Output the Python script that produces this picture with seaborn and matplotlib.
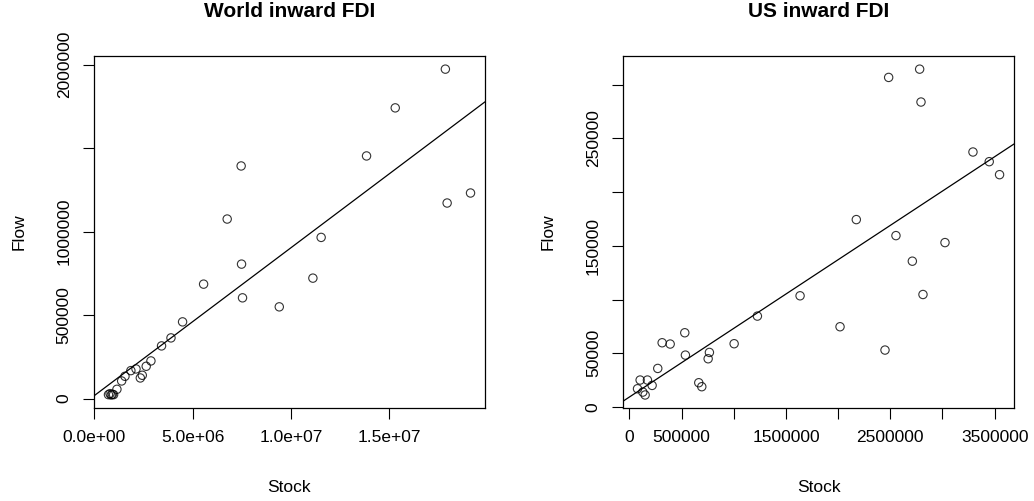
import numpy as np
import pandas as pd
import matplotlib
matplotlib.use("Agg")
import matplotlib.pyplot as plt
import seaborn as sns

# World inward FDI (stock, flow)
world_stock = [0.72e6, 0.80e6, 0.86e6, 0.92e6, 0.98e6, 1.15e6, 1.39e6, 1.56e6, 1.86e6, 2.12e6,
               2.34e6, 2.44e6, 2.64e6, 2.88e6, 3.42e6, 3.90e6, 4.49e6, 5.56e6, 6.76e6, 7.47e6,
               7.49e6, 7.54e6, 9.41e6, 11.12e6, 11.54e6, 13.85e6, 15.31e6, 17.86e6, 17.95e6, 19.14e6]
world_flow = [24000, 30000, 22000, 26000, 24000, 56000, 106000, 134000, 168000, 178000,
              124000, 140000, 194000, 226000, 316000, 364000, 460000, 686000, 1076000, 1394000,
              806000, 604000, 550000, 722000, 966000, 1454000, 1742000, 1974000, 1172000, 1232000]

# US inward FDI (stock, flow)
us_stock = [77000, 102000, 128000, 150000, 172000, 217000, 271000, 313000, 390000, 530000,
            536000, 664000, 693000, 754000, 766000, 1003000, 1226000, 1635000, 2018000, 2174000,
            2449000, 2484000, 2554000, 2711000, 2781000, 2794000, 2813000, 3024000, 3292000, 3448000,
            3547000]
us_flow = [17000, 25100, 13900, 11200, 25100, 20100, 35900, 59800, 58600, 69100,
           48300, 22600, 18900, 44900, 50800, 58900, 84600, 103500, 74700, 174400,
           53000, 306700, 159500, 135700, 314400, 283800, 104700, 153000, 237300, 228300,
           216200]

world_xticks = [0, 5e6, 1e7, 1.5e7]
world_xlabels = ["0.0e+00", "5.0e+06", "1.0e+07", "1.5e+07"]
world_yticks = [0, 500000, 1000000, 1500000, 2000000]
world_ylabels = ["0", "500000", "1000000", "", "2000000"]
us_xticks = [0, 500000, 1000000, 1500000, 2000000, 2500000, 3000000, 3500000]
us_xlabels = ["0", "500000", "", "1500000", "", "2500000", "", "3500000"]
us_yticks = [0, 50000, 100000, 150000, 200000, 250000, 300000]
us_ylabels = ["0", "50000", "", "150000", "", "250000", ""]

sns.set_style("white")
plt.rcParams['font.family'] = ['Liberation Sans', 'DejaVu Sans']
plt.rcParams['text.color'] = 'black'
plt.rcParams['axes.labelcolor'] = 'black'

def r_lims(v):
    # same 4% padding as base R plots
    lo, hi = min(v), max(v)
    r = hi - lo
    return lo - 0.04 * r, hi + 0.04 * r

fig, axes = plt.subplots(1, 2, figsize=(10.34, 5.01), dpi=100)
fig.subplots_adjust(left=0.0909, right=0.9807, bottom=0.1856, top=0.888, wspace=0.353)

panels = [
    ("World inward FDI", world_stock, world_flow, world_xticks, world_xlabels, world_yticks, world_ylabels),
    ("US inward FDI", us_stock, us_flow, us_xticks, us_xlabels, us_yticks, us_ylabels),
]

for ax, (title, xs, ys, xt, xl, yt, yl) in zip(axes, panels):
    df = pd.DataFrame({"Stock": xs, "Flow": ys})
    ax.set_xlim(r_lims(xs))
    ax.set_ylim(r_lims(ys))
    sns.regplot(data=df, x="Stock", y="Flow", ax=ax, ci=None, truncate=False,
                scatter_kws=dict(s=36, facecolors="none", edgecolors="black", linewidths=0.8),
                line_kws=dict(color="black", lw=0.9))
    ax.set_xlim(r_lims(xs))
    ax.set_ylim(r_lims(ys))
    ax.set_xticks(xt)
    ax.set_xticklabels(xl)
    ax.set_yticks(yt)
    ax.set_yticklabels(yl, rotation=90, va="center")
    ax.tick_params(direction="out", length=8, width=0.8, labelsize=12.5, pad=8,
                   bottom=True, left=True, colors="black")
    for s in ax.spines.values():
        s.set_color("black")
        s.set_linewidth(0.9)
    ax.set_xlabel("Stock", fontsize=12.5, labelpad=25, color="black")
    ax.set_ylabel("Flow", fontsize=12.5, labelpad=22, color="black")
    ax.set_title(title, fontsize=15, fontweight="bold", pad=28, color="black")

fig.savefig("out.png", dpi=100)
